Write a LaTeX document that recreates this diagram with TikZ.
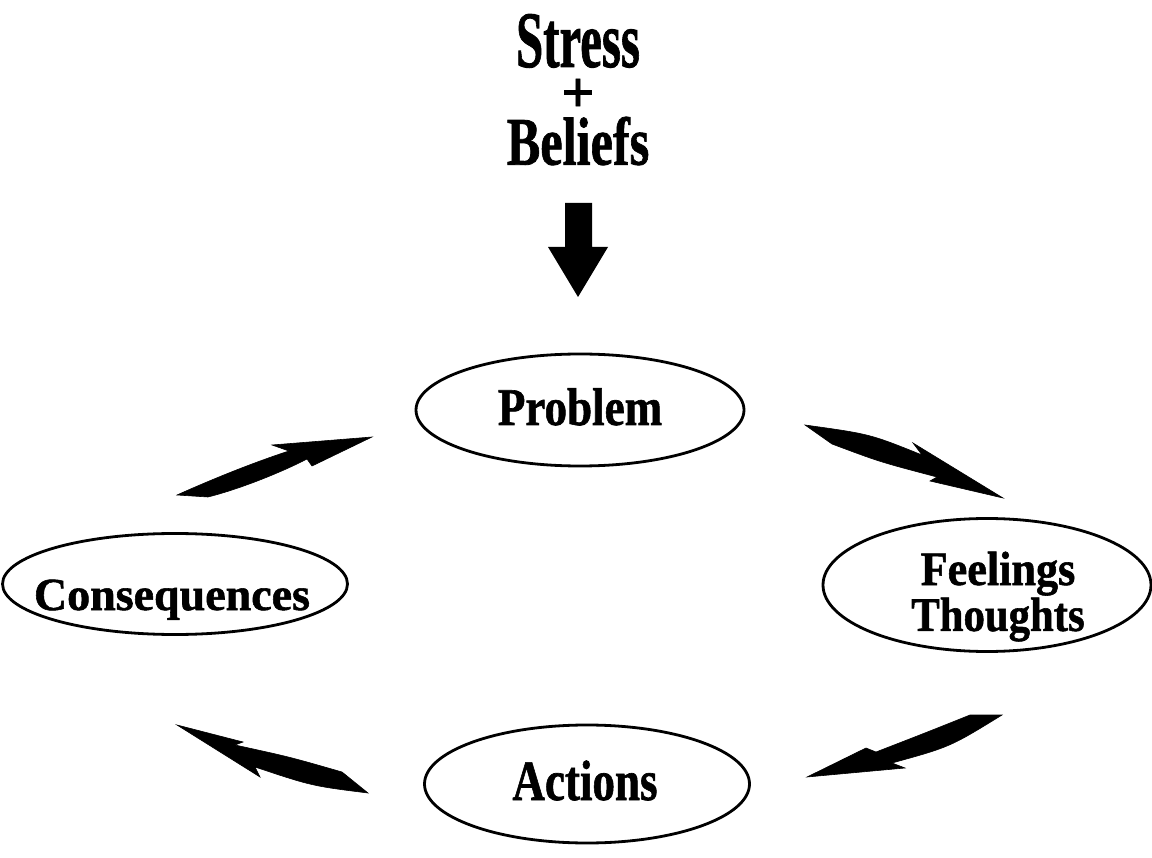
\documentclass[tikz,border=0pt]{standalone}
\usepackage{fontspec}
\setmainfont{Liberation Serif}[BoldFeatures={FakeBold=1.2}]
\usetikzlibrary{shapes.geometric}
\newcommand{\lbltext}[3]{\scalebox{#2}[1]{\fontsize{#1}{#1}\selectfont\bfseries #3}}
\begin{document}
\begin{tikzpicture}[x=1pt,y=-1pt,
  ell/.style={ellipse, draw=black, line width=2.8pt, inner sep=0pt},
  lbl/.style={anchor=base, inner sep=0pt},
  bigarrow/.style={fill=black, draw=black, line width=0.6pt, line join=miter}]
\useasboundingbox (0,0) rectangle (1152,858);
\fill[white] (0,0) rectangle (1152,858);

% top text: Stress + Beliefs
\node[lbl] (cause) at (578,67) {\fontsize{10}{40}\selectfont
  \begin{tabular}[t]{@{}c@{}}
  \lbltext{80}{0.61}{Stress}\\
  \lbltext{58}{1}{+}\\[-7pt]
  \lbltext{68}{0.74}{Beliefs}
  \end{tabular}};

% down arrow
\fill[black] (565,203) -- (592,203) -- (592,247) -- (608,247) -- (578,297) -- (548,247) -- (565,247) -- cycle;

% ellipses
\node[ell, minimum width=328, minimum height=112] (problem) at (580,410) {};
\node[ell, minimum width=328, minimum height=133] (feel) at (987,585) {};
\node[ell, minimum width=345, minimum height=101] (cons) at (175,584) {};
\node[ell, minimum width=325, minimum height=118] (actions) at (587,784) {};

% labels
\node[lbl] (tproblem) at (580,425) {\lbltext{53}{0.85}{Problem}};
\node[lbl] (tfeel) at (998,585) {\fontsize{10}{42}\selectfont
  \begin{tabular}[t]{@{}c@{}}
  \lbltext{48}{0.92}{Feelings}\\
  \lbltext{48}{0.89}{Thoughts}
  \end{tabular}};
\node[lbl] (tcons) at (172,610) {\lbltext{46}{1.0}{Consequences}};
\node[lbl] (tactions) at (585,800) {\lbltext{57}{0.79}{Actions}};

% curved arrows
% Consequences -> Problem
\draw[bigarrow] (177,495) .. controls (215,478) and (255,462) .. (289,451) -- (272,445) -- (372,437) -- (312,466) -- (307,459) .. controls (282,472) and (240,489) .. (208,497) -- cycle;
% Problem -> Feelings
\draw[bigarrow] (805,425) .. controls (870,434) .. (922,455) -- (913,443) -- (1003,498) -- (930,481) -- (937,477) .. controls (880,462) .. (832,444) -- cycle;
% Feelings -> Actions
\draw[bigarrow] (970,715) -- (1002,715) .. controls (950,747) .. (892,763) -- (905,768) -- (807,777) -- (866,748) -- (876,752) .. controls (925,733) .. (970,715) -- cycle;
% Actions -> Consequences
\draw[bigarrow] (177,725) -- (243,742) -- (235,745) .. controls (290,757) .. (342,772) -- (368,793) .. controls (312,786) .. (255,767) -- (260,777) -- cycle;
\end{tikzpicture}
\end{document}
